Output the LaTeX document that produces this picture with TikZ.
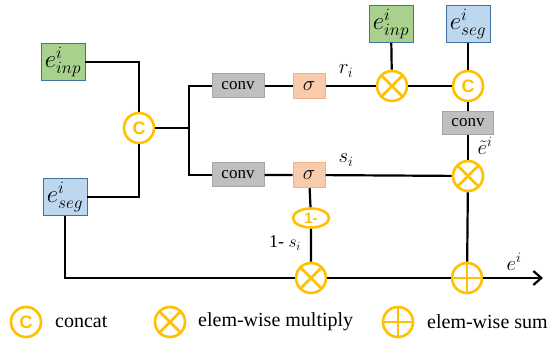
\documentclass[tikz,border=0pt]{standalone}
\usepackage{fontspec}
\setmainfont{Liberation Serif}
\setsansfont{Liberation Sans}
\usetikzlibrary{arrows.meta,shapes.geometric}

\definecolor{gold}{HTML}{FFC000}
\definecolor{inpgreen}{HTML}{A9D18E}
\definecolor{segblue}{HTML}{BDD7EE}
\definecolor{boxedge}{HTML}{41719C}
\definecolor{convgrey}{HTML}{BFBFBF}
\definecolor{convedge}{HTML}{A5A5A5}
\definecolor{sigfill}{HTML}{F8CBAD}
\definecolor{sigedge}{HTML}{F4B183}

\tikzstyle{feat}=[draw=boxedge, line width=0.8pt, minimum width=44pt,
                  minimum height=37pt, inner sep=0pt, font=\fontsize{23}{25}\selectfont]
\tikzstyle{inp}=[feat, fill=inpgreen]
\tikzstyle{seg}=[feat, fill=segblue]
\tikzstyle{convbox}=[draw=convedge, line width=1pt, fill=convgrey, minimum width=52pt,
                     minimum height=24pt, inner sep=0pt, font=\fontsize{17}{19}\selectfont]
\tikzstyle{sigbox}=[draw=sigedge, line width=1pt, fill=sigfill, minimum width=32pt,
                    minimum height=25pt, inner sep=0pt, font=\fontsize{20}{22}\selectfont]
\tikzstyle{op}=[circle, draw=gold, line width=2.6pt, minimum size=30pt, inner sep=0pt, fill=white]
\tikzstyle{cat}=[op, text=gold, font=\sffamily\bfseries\fontsize{18}{18}\selectfont]
\tikzstyle{mul}=[op, path picture={
    \draw[gold, line width=2.6pt]
        ([shift={(45:15pt)}]path picture bounding box.center) --
        ([shift={(225:15pt)}]path picture bounding box.center)
        ([shift={(135:15pt)}]path picture bounding box.center) --
        ([shift={(315:15pt)}]path picture bounding box.center);}]
\tikzstyle{add}=[op, path picture={
    \draw[gold, line width=2.6pt]
        ([shift={(0:15pt)}]path picture bounding box.center) --
        ([shift={(180:15pt)}]path picture bounding box.center)
        ([shift={(90:15pt)}]path picture bounding box.center) --
        ([shift={(270:15pt)}]path picture bounding box.center);}]
\tikzstyle{wire}=[draw=black, line width=2.2pt]
\tikzstyle{lbl}=[inner sep=0pt, font=\fontsize{22}{24}\selectfont]
\tikzstyle{legend}=[inner sep=0pt, anchor=west, font=\fontsize{20}{22}\selectfont]

\begin{document}
\begin{tikzpicture}[x=1pt, y=-1pt]
    \useasboundingbox (0,0) rectangle (548,344);

    % inputs and the first concat
    \node[inp] (einpL) at (63,62) {$e^{i}_{inp}$};
    \node[seg] (esegL) at (65,197) {$e^{i}_{seg}$};
    \node[cat] (cat1) at (139,128) {C};
    \coordinate (split) at (189,128);

    % the two gates
    \node[convbox] (conv1) at (238,86) {conv};
    \node[convbox] (conv2) at (238,175) {conv};
    \node[sigbox] (sig1) at (309,86) {$\sigma$};
    \node[sigbox] (sig2) at (309,175) {$\sigma$};
    \node[mul] (mul1) at (392,86) {};
    \node[inp] (einpT) at (391,24) {$e^{i}_{inp}$};
    \node[seg] (esegT) at (468,24) {$e^{i}_{seg}$};
    \node[cat] (cat2) at (468,86) {C};
    \node[convbox, minimum width=51pt, minimum height=23pt] (conv3) at (468,123) {conv};
    \node[mul] (mul2) at (468,176) {};
    \node[ellipse, draw=gold, line width=2.6pt, minimum width=36pt, minimum height=19pt,
          inner sep=0pt, fill=white, text=gold, font=\sffamily\bfseries\fontsize{15}{15}\selectfont]
          (oneminus) at (311,218) {1-};
    \node[mul] (mul3) at (311,278) {};
    \node[add] (sum) at (467,278) {};
    \coordinate (out) at (543,278);

    % wires
    \draw[wire] (einpL.east) -| (cat1.north);
    \draw[wire] (esegL.east) -| (cat1.south);
    \draw[wire] (cat1.east) -- (split);
    \draw[wire] (split) |- (conv1.west);
    \draw[wire] (split) |- (conv2.west);
    \draw[wire] (conv1) -- (sig1) -- (mul1) -- (cat2);
    \draw[wire] (einpT) -- (mul1);
    \draw[wire] (esegT) -- (cat2);
    \draw[wire] (cat2) -- (conv3) -- (mul2);
    \draw[wire] (conv2) -- (sig2) -- (mul2);
    \draw[wire] (sig2) -- (oneminus) -- (mul3);
    \draw[wire] (esegL.south) |- (mul3);
    \draw[wire] (mul3) -- (sum);
    \draw[wire] (mul2) -- (sum);
    \draw[wire, -{Straight Barb[length=8pt,width=14pt]}] (sum) -- (out);

    % labels on the wires
    \node[lbl] (rlbl) at (346,71) {$r_i$};
    \node[lbl] (slbl) at (346,160) {$s_i$};
    \node[lbl] (etlbl) at (485,146) {$\tilde{e}^{i}$};
    \node[lbl, font=\fontsize{18}{20}\selectfont] (omlbl) at (285,243) {1- $s_i$};
    \node[lbl] (elbl) at (514,262) {$e^{i}$};

    % legend
    \node[cat] (legcat) at (26,322) {C};
    \node[legend] (txtcat) at (55,322) {concat};
    \node[mul] (legmul) at (170,322) {};
    \node[legend] (txtmul) at (198,322) {elem-wise multiply};
    \node[add] (legadd) at (398,322) {};
    \node[legend] (txtadd) at (427,322) {elem-wise sum};
\end{tikzpicture}
\end{document}
